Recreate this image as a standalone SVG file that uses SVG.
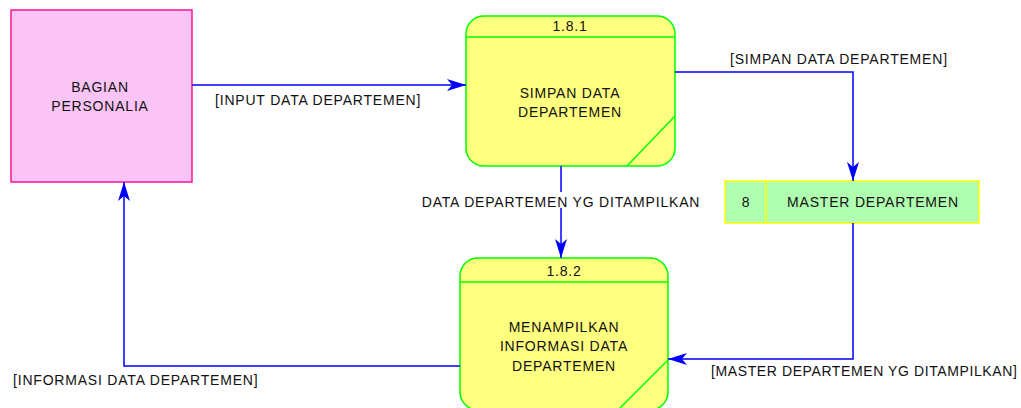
<svg xmlns="http://www.w3.org/2000/svg" width="1021" height="408" viewBox="0 0 1021 408">
<style>
text{font-family:"Liberation Sans",Arial,sans-serif;font-size:14px;letter-spacing:0.8px;fill:#111;}
.c{text-anchor:middle;}
.ln{fill:none;stroke:#0000ff;stroke-width:1.5;}
.proc{fill:#ffff80;stroke:#00ff00;stroke-width:1.5;}
.pl{stroke:#00ff00;stroke-width:1.5;fill:none;}
</style>
<defs>
<marker id="ah" markerWidth="20" markerHeight="12" refX="19" refY="6" orient="auto" markerUnits="userSpaceOnUse">
<path d="M0,0 L19,6 L0,12 L5,6 Z" fill="#0000ff"/>
</marker>
</defs>
<rect width="1021" height="408" fill="#fff"/>
<g id="bagian-personalia">
<rect x="11" y="10" width="181" height="172" fill="#fbc4f7" stroke="#ff1493" stroke-width="1.5"/>
<text class="c" x="100" y="92">BAGIAN</text>
<text class="c" x="100" y="111">PERSONALIA</text>
</g>
<g id="p181">
<rect class="proc" x="466" y="16" width="209" height="150" rx="18"/>
<line class="pl" x1="466" y1="37" x2="675" y2="37"/>
<line class="pl" x1="675" y1="116" x2="627" y2="166"/>
<text class="c" x="570" y="31">1.8.1</text>
<text class="c" x="570" y="98">SIMPAN DATA</text>
<text class="c" x="570" y="117">DEPARTEMEN</text>
</g>
<g id="p182">
<rect class="proc" x="460" y="258" width="208" height="152" rx="18"/>
<line class="pl" x1="460" y1="282" x2="668" y2="282"/>
<line class="pl" x1="668" y1="360" x2="620" y2="408"/>
<text class="c" x="564" y="276">1.8.2</text>
<text class="c" x="564" y="332">MENAMPILKAN</text>
<text class="c" x="564" y="351">INFORMASI DATA</text>
<text class="c" x="564" y="371">DEPARTEMEN</text>
</g>
<g id="store8">
<rect x="725" y="181" width="254" height="42" fill="#b0ffb0" stroke="#ffff00" stroke-width="1.5"/>
<line x1="766" y1="181" x2="766" y2="223" stroke="#ffff00" stroke-width="1.5"/>
<text class="c" x="746" y="207">8</text>
<text class="c" x="873" y="207">MASTER DEPARTEMEN</text>
</g>
<g id="connectors">
<path class="ln" d="M192,85 L466,85" marker-end="url(#ah)"/>
<text x="215" y="105">[INPUT DATA DEPARTEMEN]</text>
<path class="ln" d="M675,72 L853,72 L853,181" marker-end="url(#ah)"/>
<text x="730" y="64">[SIMPAN DATA DEPARTEMEN]</text>
<path class="ln" d="M561,166 L561,258" marker-end="url(#ah)"/>
<rect x="420" y="192" width="282" height="16" fill="#fff"/>
<text class="c" x="561" y="207">DATA DEPARTEMEN YG DITAMPILKAN</text>
<path class="ln" d="M853,223 L853,359 L668,359" marker-end="url(#ah)"/>
<text x="711" y="376" style="letter-spacing:0.6px">[MASTER DEPARTEMEN YG DITAMPILKAN]</text>
<path class="ln" d="M460,366 L124,366 L124,182" marker-end="url(#ah)"/>
<text x="13" y="385">[INFORMASI DATA DEPARTEMEN]</text>
</g>
</svg>
